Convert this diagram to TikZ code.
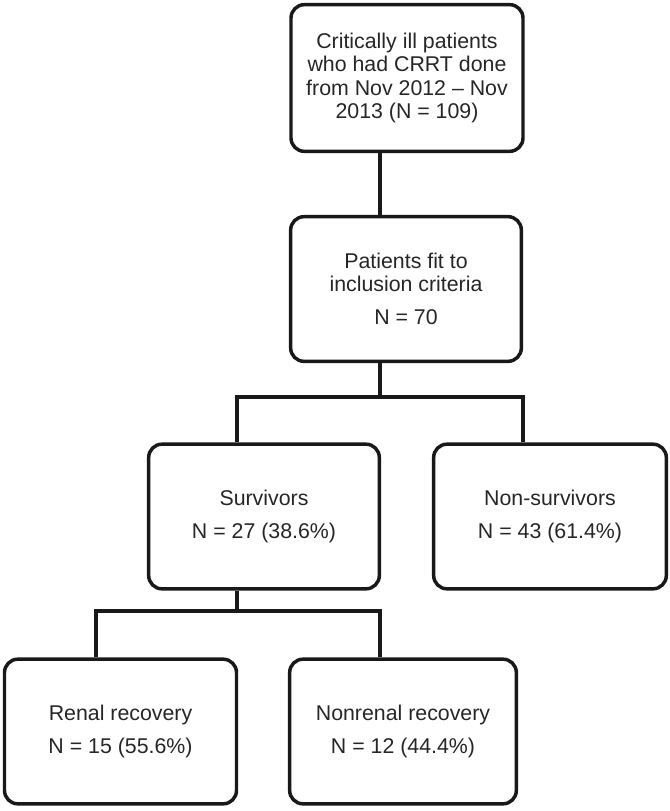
\documentclass[tikz,border=0pt]{standalone}
\usepackage{fontspec}
\setmainfont{Liberation Sans}
\usetikzlibrary{positioning}
\tikzset{
	stage/.style={draw=black!90, rounded corners=10pt, line width=2.6pt, text=black!85, align=center, inner sep=0pt, minimum width=173pt, minimum height=108.5pt, font=\fontsize{16}{17.5}\selectfont},
	link/.style={line width=2.6pt, draw=black!90},
}

\begin{document}
\begin{tikzpicture}[x=0.75pt, y=-0.75pt]

\useasboundingbox (0,0) rectangle (669,811);

\node (critical) [stage, minimum width=174pt, minimum height=110pt] at (407,78) {Critically ill patients\\who had CRRT done\\from Nov 2012 -- Nov\\2013 (N = 109)};

\node (included) [stage] at (406,289) {Patients fit to\\inclusion criteria\\[7pt]N = 70};

\node (survivors) [stage] at (264,516.5) {Survivors\\[7pt]N = 27 (38.6\%)};

\node (nonsurv) [stage, minimum width=174.5pt] at (550,516.5) {Non-survivors\\[7pt]N = 43 (61.4\%)};

\node (renal) [stage, minimum width=174pt] at (120.5,731.5) {Renal recovery\\[7pt]N = 15 (55.6\%)};

\node (nonrenal) [stage, minimum width=170pt] at (403,731.5) {Nonrenal recovery\\[7pt]N = 12 (44.4\%)};

% trunks and split levels
\coordinate (axA) at (380,0);
\coordinate (axB) at (237,0);
\coordinate (axC) at (523,0);
\coordinate (axD) at (96,0);
\coordinate (split1) at (0,397);
\coordinate (split2) at (0,611);

\begin{scope}[link]
	\draw[link] (critical.south -| axA) -- (included.north -| axA);
	\draw[link] (included.south -| axA) -- (split1 -| axA);
	\draw[link] (survivors.north -| axB) -- (split1 -| axB) -- (split1 -| axC) -- (nonsurv.north -| axC);
	\draw[link] (survivors.south -| axB) -- (split2 -| axB);
	\draw[link] (renal.north -| axD) -- (split2 -| axD) -- (split2 -| axA) -- (nonrenal.north -| axA);
\end{scope}
\end{tikzpicture}
\end{document}
